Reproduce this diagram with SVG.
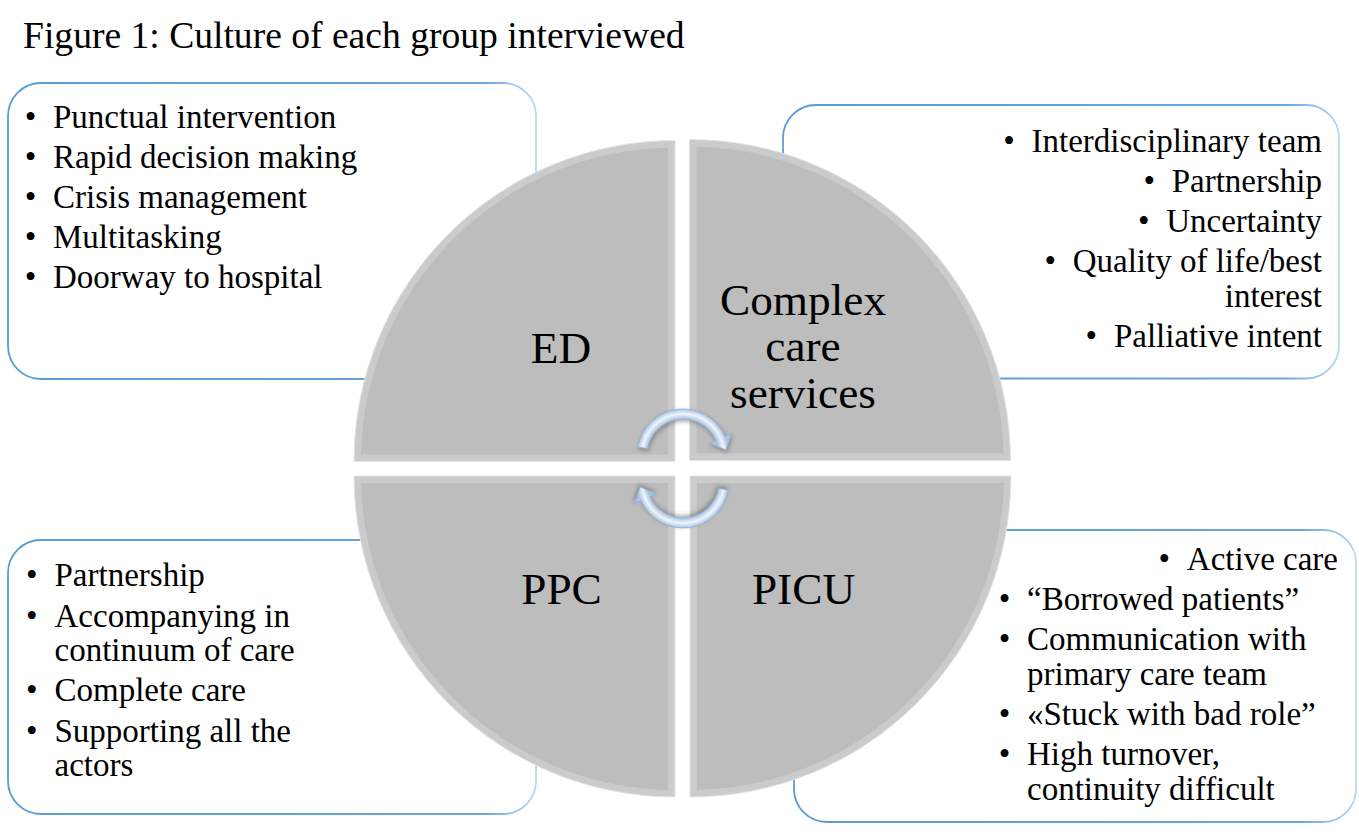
<svg xmlns="http://www.w3.org/2000/svg" width="1359" height="840" viewBox="0 0 1359 840" font-family="'Liberation Serif', 'Times New Roman', serif">
<style>
text{font-family:"Liberation Serif","Times New Roman",serif;fill:#000}
.b{font-size:33px}
.e{text-anchor:end}
.lbl{font-size:45.3px;text-anchor:middle}
.title{font-size:37.6px}
.box{fill:#fff;stroke:url(#boxStroke);stroke-width:1.8}
.rim{fill:#cbcbcb;stroke:#e4e4e4;stroke-width:1}
.face{fill:#bdbdbd}
.arrow{fill:url(#arrowGrad);stroke:#90aed4;stroke-width:0.8;filter:url(#sh)}
</style>
<defs>
<linearGradient id="boxStroke" x1="0" y1="0" x2="1" y2="0">
<stop offset="0" stop-color="#5b9bd5"/>
<stop offset="0.9" stop-color="#6aa6de"/>
<stop offset="1" stop-color="#b9d8f2"/>
</linearGradient>
<radialGradient id="arrowGrad" gradientUnits="userSpaceOnUse" cx="683" cy="455" r="53">
<stop offset="0" stop-color="#a8c1e1"/>
<stop offset="0.68" stop-color="#a8c1e1"/>
<stop offset="0.775" stop-color="#f0f5fc"/>
<stop offset="0.87" stop-color="#a9c3e3"/>
<stop offset="1" stop-color="#a9c3e3"/>
</radialGradient>
<filter id="sh" x="-30%" y="-30%" width="160%" height="160%">
<feDropShadow dx="1" dy="2" stdDeviation="2" flood-color="#404040" flood-opacity="0.45"/>
</filter>
</defs>
<rect width="1359" height="840" fill="#fff"/>
<text id="title" class="title" x="23" y="48">Figure 1: Culture of each group interviewed</text>

<g id="box-ed">
<rect class="box" x="8" y="83" width="528" height="296" rx="33"/>
<g class="b">
<text x="24.7" y="128">•</text><text x="53" y="128">Punctual intervention</text>
<text x="24.7" y="168">•</text><text x="53" y="168">Rapid decision making</text>
<text x="24.7" y="208">•</text><text x="53" y="208">Crisis management</text>
<text x="24.7" y="248">•</text><text x="53" y="248">Multitasking</text>
<text x="24.7" y="288">•</text><text x="53" y="288">Doorway to hospital</text>
</g>
</g>

<g id="box-complex">
<rect class="box" x="783" y="105" width="556" height="273.5" rx="33"/>
<g class="b">
<text x="1003.2" y="152">•</text><text class="e" x="1322" y="152">Interdisciplinary team</text>
<text x="1143.4" y="192">•</text><text class="e" x="1322" y="192">Partnership</text>
<text x="1137.9" y="232">•</text><text class="e" x="1322" y="232">Uncertainty</text>
<text x="1044.4" y="272">•</text><text class="e" x="1322" y="272">Quality of life/best</text>
<text class="e" x="1322" y="307">interest</text>
<text x="1085.6" y="347">•</text><text class="e" x="1322" y="347">Palliative intent</text>
</g>
</g>

<g id="box-ppc">
<rect class="box" x="8" y="540" width="528" height="274" rx="33"/>
<g class="b">
<text x="26" y="585.5">•</text><text x="54.5" y="585.5">Partnership</text>
<text x="26" y="626.5">•</text><text x="54.5" y="626.5">Accompanying in</text>
<text x="54.5" y="660.5">continuum of care</text>
<text x="26" y="701">•</text><text x="54.5" y="701">Complete care</text>
<text x="26" y="741.5">•</text><text x="54.5" y="741.5">Supporting all the</text>
<text x="54.5" y="775.5">actors</text>
</g>
</g>

<g id="box-picu">
<rect class="box" x="794" y="530" width="562" height="292" rx="33"/>
<g class="b">
<text x="1158.5" y="570">•</text><text class="e" x="1338" y="570">Active care</text>
<text x="998.7" y="610">•</text><text x="1027" y="610">“Borrowed patients”</text>
<text x="998.7" y="650">•</text><text x="1027" y="650">Communication with</text>
<text x="1027" y="685">primary care team</text>
<text x="998.7" y="725">•</text><text x="1027" y="725">«Stuck with bad role”</text>
<text x="998.7" y="765">•</text><text x="1027" y="765">High turnover,</text>
<text x="1027" y="800">continuity difficult</text>
</g>
</g>

<g id="wedge-ed">
<path class="rim" d="M675,461.5 L354,461.5 A321,321 0 0 1 675,140.5 Z"/>
<path class="face" d="M668,454.5 L361.08,454.5 A314,314 0 0 1 668,147.58 Z"/>
<text class="lbl" x="561" y="363">ED</text>
</g>

<g id="wedge-complex">
<path class="rim" d="M689.5,460.5 L689.5,139.5 A321,321 0 0 1 1010.5,460.5 Z"/>
<path class="face" d="M696.5,453.5 L696.5,146.58 A314,314 0 0 1 1003.42,453.5 Z"/>
<text class="lbl" x="803" y="315">Complex</text>
<text class="lbl" x="803" y="361">care</text>
<text class="lbl" x="803" y="408">services</text>
</g>

<g id="wedge-ppc">
<path class="rim" d="M675,476 L675,797 A321,321 0 0 1 354,476 Z"/>
<path class="face" d="M668,483 L668,789.92 A314,314 0 0 1 361.08,483 Z"/>
<text class="lbl" x="561.5" y="604">PPC</text>
</g>

<g id="wedge-picu">
<path class="rim" d="M690,476 L1011,476 A321,321 0 0 1 690,797 Z"/>
<path class="face" d="M697,483 L1003.92,483 A314,314 0 0 1 697,789.92 Z"/>
<text class="lbl" x="803.5" y="604">PICU</text>
</g>

<g id="connectors">
<path class="arrow" d="M637.7,447.01 A46,46 0 0 1 725.02,436.29 L731.42,433.44 L726,450 L709.49,443.2 L715.89,440.36 A36,36 0 0 0 647.55,448.75 Z"/>
<path class="arrow" transform="rotate(180 683 468.5)" d="M637.7,447.01 A46,46 0 0 1 725.02,436.29 L731.42,433.44 L726,450 L709.49,443.2 L715.89,440.36 A36,36 0 0 0 647.55,448.75 Z"/>
</g>
</svg>
